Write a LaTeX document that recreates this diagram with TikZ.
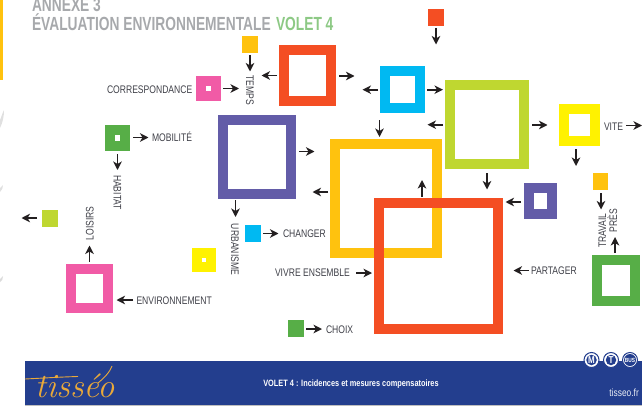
\documentclass[tikz,border=0pt]{standalone}
\usepackage{fontspec}
\usetikzlibrary{arrows.meta}
\newfontfamily\labf[FakeStretch=0.78]{Liberation Sans}
\newfontfamily\titf[FakeStretch=0.725]{Liberation Sans}
\newfontfamily\footf[FakeStretch=0.80]{Liberation Sans}
\definecolor{cred}{HTML}{F44E23}
\definecolor{cgold}{HTML}{FFC20E}
\definecolor{cpurple}{HTML}{635CA8}
\definecolor{ccyan}{HTML}{00B9F2}
\definecolor{clime}{HTML}{BFD730}
\definecolor{cyel}{HTML}{FFF200}
\definecolor{cgreen}{HTML}{57AE47}
\definecolor{cpink}{HTML}{F15BA6}
\definecolor{cblue}{HTML}{233E8E}
\definecolor{ctitle}{HTML}{A7A9AC}
\definecolor{cvolet}{HTML}{8DC985}
\definecolor{cink}{HTML}{231F20}
\definecolor{clabel}{HTML}{3F4048}
\definecolor{clogo}{HTML}{E9A93A}
\tikzset{
  arr/.style={cink,line width=1.7pt,-{Stealth[length=8.5pt,width=8.5pt,inset=2.5pt]}},
  lab/.style={inner sep=0pt,outer sep=0pt,text height=8pt,text depth=0pt,text=clabel,font=\labf\fontsize{11}{11}\selectfont},
  tit/.style={inner sep=0pt,outer sep=0pt,anchor=base west,font=\titf\bfseries\fontsize{19}{19}\selectfont},
  frame/.style={draw=#1,line width=10pt,inner sep=0pt,outer sep=0pt},
  solid box/.style={fill=#1,inner sep=0pt,outer sep=0pt},
  dot/.style={fill=white,inner sep=0pt,outer sep=0pt,minimum size=4.5pt},
  logo ring/.style={circle,fill=white,draw=cblue,line width=1pt,inner sep=0pt,minimum size=15pt},
  logo disc/.style={circle,fill=cblue,inner sep=0pt,minimum size=10.5pt,text=white,font=\footf\bfseries\fontsize{#1}{#1}\selectfont},
}
\newcommand{\frm}[6]{%
  \pgfmathsetmacro\cxx{(#3+#5)/2}\pgfmathsetmacro\cyy{(#4+#6)/2}%
  \pgfmathsetmacro\www{#5-#3-10}\pgfmathsetmacro\hhh{#6-#4-10}%
  \node[frame=#2,minimum width=\www pt,minimum height=\hhh pt] (#1) at (\cxx,\cyy) {};}
\newcommand{\sqr}[6]{%
  \pgfmathsetmacro\cxx{(#3+#5)/2}\pgfmathsetmacro\cyy{(#4+#6)/2}%
  \pgfmathsetmacro\www{#5-#3}\pgfmathsetmacro\hhh{#6-#4}%
  \node[solid box=#2,minimum width=\www pt,minimum height=\hhh pt] (#1) at (\cxx,\cyy) {};}
\newcommand{\conn}[3]{%
  \coordinate (#1s) at (#2);\coordinate (#1e) at (#3);\draw[arr] (#1s) -- (#1e);}
\begin{document}
\begin{tikzpicture}[x=1pt,y=-1pt]
\useasboundingbox (0,0) rectangle (642,412);
\clip (0,0) rectangle (642,412);
% margin marks
\fill[cgold] (0,0) rectangle (3.3,80);
\fill[black!12] (0,128) .. controls (3,122) and (4,116) .. (4,110) .. controls (2,114) and (1,118) .. (0,120) -- cycle;
\fill[black!12] (0,192) .. controls (2,190) and (3,188) .. (3,185) .. controls (2,186) and (1,187) .. (0,188) -- cycle;
\fill[black!14] (0,282) .. controls (2,281) and (3,279) .. (3,276) .. controls (2,277) and (1,278) .. (0,279) -- cycle;
% title
\node[tit,text=ctitle] (annexe) at (32,12) {ANNEXE 3};
\node[tit,text=ctitle] (evalu) at (32,31) {ÉVALUATION ENVIRONNEMENTALE};
\node[tit,text=cvolet] (volet) at (276,31) {VOLET 4};
% frames
\frm{fred}{cred}{279}{45}{336}{106}
\frm{fpurple}{cpurple}{218}{115}{296}{199}
\frm{fcyan}{ccyan}{380}{66}{425}{113}
\frm{flime}{clime}{445}{80}{529}{169}
\frm{fyel}{cyel}{559}{104}{600}{146}
\frm{fgold}{cgold}{330}{139}{442}{258}
\frm{fbig}{cred}{374}{198}{503}{334}
\frm{fpurs}{cpurple}{524}{183}{557}{219}
\frm{fgreen}{cgreen}{592}{255}{640}{306}
\frm{fpink}{cpink}{66}{264}{113}{313}
% small squares
\sqr{sgoldt}{cgold}{242}{36}{258}{53}
\sqr{spink}{cpink}{196}{76}{221}{101}
\node[dot] (dpink) at (spink) {};
\sqr{sgreen}{cgreen}{105}{125}{130}{151}
\node[dot,minimum size=5.5pt] (dgreen) at (sgreen) {};
\sqr{sredt}{cred}{428}{9}{444}{26}
\sqr{sgoldr}{cgold}{593}{173}{608}{190}
\sqr{slime}{clime}{42}{210}{58}{227}
\sqr{scyan}{ccyan}{245}{225}{261}{242}
\sqr{syel}{cyel}{192}{248}{216}{272}
\node[dot] (dyel) at (syel) {};
\sqr{sgrch}{cgreen}{288}{320}{304}{337}
% labels
\node[lab,anchor=west] (lcorr) at (107,89) {CORRESPONDANCE};
\node[lab,rotate=-90] (ltemps) at (250,90) {TEMPS};
\node[lab,anchor=west] (lmob) at (152,137.5) {MOBILITÉ};
\node[lab,rotate=-90] (lhab) at (117.5,192.5) {HABITAT};
\node[lab,rotate=90] (lloi) at (89.5,223.5) {LOISIRS};
\node[lab,rotate=-90] (lurb) at (235,249.5) {URBANISME};
\node[lab,anchor=west] (lchg) at (283,233.5) {CHANGER};
\node[lab,anchor=west] (lviv) at (275,272) {VIVRE ENSEMBLE};
\node[lab,anchor=west] (lenv) at (136.5,300) {ENVIRONNEMENT};
\node[lab,anchor=west] (lcho) at (326,329) {CHOIX};
\node[lab,anchor=west] (lpar) at (531,270) {PARTAGER};
\node[lab,anchor=west] (lvit) at (604,126) {VITE};
\node[lab,rotate=90] (ltra) at (602,230.5) {TRAVAIL};
\node[lab,rotate=90] (lpre) at (613,220.5) {PRÈS};
% arrows
\conn{a1}{250,55}{250,71.5}
\conn{a2}{277,75.5}{261.5,75.5}
\conn{a3}{223,88.5}{239,88.5}
\conn{a4}{133,137.5}{148.5,137.5}
\conn{a5}{117.5,154}{117.5,170}
\conn{a6}{299,151.5}{314.5,151.5}
\conn{a7}{328,192}{312.5,192}
\conn{a8}{339,76}{354.5,76}
\conn{a9}{378,89.7}{362.5,89.7}
\conn{a10}{427,89.7}{443,89.7}
\conn{a11}{436,28}{436,44.5}
\conn{a12}{379.5,120}{379.5,137}
\conn{a13}{443,124.7}{427.5,124.7}
\conn{a14}{532,125}{547.5,125}
\conn{a15}{626,125.5}{642,125.5}
\conn{a16}{576,149}{576,166}
\conn{a17}{487,173}{487,189.5}
\conn{a18}{521,202}{505.5,202}
\conn{a19}{422,197}{422,180}
\conn{a20}{601,193}{601,209.5}
\conn{a21}{615,253}{615,237}
\conn{a22}{529,270.5}{513.5,270.5}
\conn{a23}{356,273}{372,273}
\conn{a24}{306,329}{322,329}
\conn{a25}{133,300}{116.5,300}
\conn{a26}{89.5,262}{89.5,245.5}
\conn{a27}{37,218}{21.5,218}
\conn{a28}{263,233.5}{278.5,233.5}
\conn{a29}{235.5,200}{235.5,217}
% footer
\fill[cblue] (25,361) rectangle (642,405);
\draw[black!25,line width=.6pt] (25,405.3) -- (642,405.3);
\node[inner sep=0pt,text=white,anchor=center,font=\footf\bfseries\fontsize{9.2}{9.2}\selectfont] (ftxt) at (351,384) {VOLET 4 : Incidences et mesures compensatoires};
\node[inner sep=0pt,text=white!90!cblue,anchor=east,font=\footf\fontsize{10.5}{10.5}\selectfont] (fsite) at (639,393) {tisseo.fr};
\node[logo ring] (rm) at (591.5,360) {};
\node[logo disc=10] (cm) at (rm) {M};
\node[logo ring] (rt) at (611,360) {};
\node[logo disc=10] (ct) at (rt) {T};
\node[logo ring] (rb) at (630,360) {};
\node[logo disc=6,minimum size=12pt] (cb) at (rb) {BUS};
% signature
\node[inner sep=0pt,text=clogo,anchor=base west,font=\rmfamily\itshape\fontsize{34}{34}\selectfont] (sig) at (35,397) {tisséo};
\draw[clogo,line width=.9pt] (25,379) .. controls (45,378) and (60,377) .. (78,376.5);
\draw[clogo,line width=.9pt] (98,383) .. controls (104,378) and (110,372) .. (112,366);
\end{tikzpicture}
\end{document}
